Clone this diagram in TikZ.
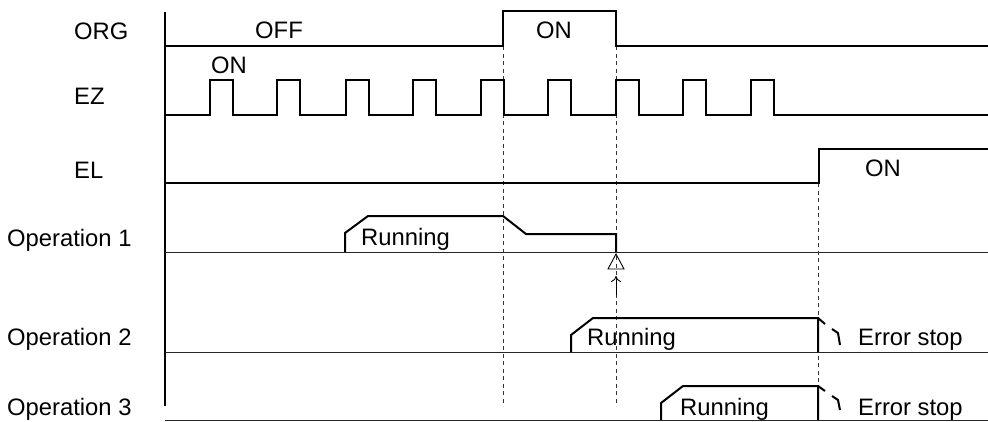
\documentclass[tikz,border=0pt]{standalone}
\usepackage{fontspec}
\setmainfont{Liberation Sans}
\usetikzlibrary{arrows.meta}
\begin{document}
\begin{tikzpicture}[x=1pt,y=-1pt,
  sig/.style={line width=2pt,line join=miter},
  base/.style={line width=1pt,black!85},
  guide/.style={line width=0.9pt,dash pattern=on 4pt off 3.5pt,black!80},
  lbl/.style={anchor=base west,inner sep=0pt,font=\fontsize{23.8}{28}\selectfont}]
\useasboundingbox (0,0) rectangle (988,421);
% frame
\draw[line width=1.5pt] (165,12) -- (165,406);
% baselines
\draw[base] (165,252) -- (988,252);
\draw[base] (165,352) -- (988,352);
\draw[base] (165,420) -- (988,420);
% guides
\draw[guide] (503,46) -- (503,406);
\draw[guide] (616,46) -- (616,406);
\draw[guide] (818,183) -- (818,420);
% ORG
\draw[sig] (165,45.5) -- (503,45.5) -- (503,11) -- (616,11) -- (616,45.5) -- (988,45.5);
% EZ
\draw[sig] (165,115) \foreach \r in {210,277,346,413,481,548,616,683,751}{ -- (\r,115) -- (\r,80) -- (\r+23,80) -- (\r+23,115)} -- (988,115);
% EL
\draw[sig] (165,183) -- (819,183) -- (819,149) -- (988,149);
% Operation 1
\draw[sig] (345,252) -- (345,233) -- (368,216) -- (503,216) -- (526,234) -- (616,234) -- (616,252);
% Operation 2
\draw[sig] (571,352) -- (571,335) -- (593,318) -- (818,318) -- (818,352);
\draw[sig] (818,318) -- (825,324);
\draw[sig] (832,329) -- (838,333) -- (840,345);
% Operation 3
\draw[sig] (661,420) -- (661,403) -- (683,386) -- (818,386) -- (818,420);
\draw[sig] (818,386) -- (825,391);
\draw[sig] (832,396) -- (838,400) -- (840,410);
% warning triangle and arrow
\draw[line width=0.9pt] (616,254) -- (608,269) -- (624,269) -- cycle;
\coordinate (arrtip) at (616,276);
\coordinate (arrtail) at (616,295);
\draw[line width=0.9pt,-{To[length=6pt,width=10pt]}] (arrtail) -- (arrtip);
% labels
\node[lbl] (lorg) at (74,39) {ORG};
\node[lbl] (lez) at (74,104) {EZ};
\node[lbl] (lel) at (74,178) {EL};
\node[lbl] (lop1) at (7,246) {Operation 1};
\node[lbl] (lop2) at (7,345) {Operation 2};
\node[lbl] (lop3) at (7,415) {Operation 3};
\node[lbl] (toff) at (255,38) {OFF};
\node[lbl] (ton1) at (536,38) {ON};
\node[lbl] (ton2) at (211,73) {ON};
\node[lbl] (ton3) at (865,176) {ON};
\node[lbl] (run1) at (361,245) {Running};
\node[lbl] (run2) at (587,345.5) {Running};
\node[lbl] (run3) at (680,415) {Running};
\node[lbl] (err2) at (858,345) {Error stop};
\node[lbl] (err3) at (858,415) {Error stop};
\end{tikzpicture}
\end{document}
